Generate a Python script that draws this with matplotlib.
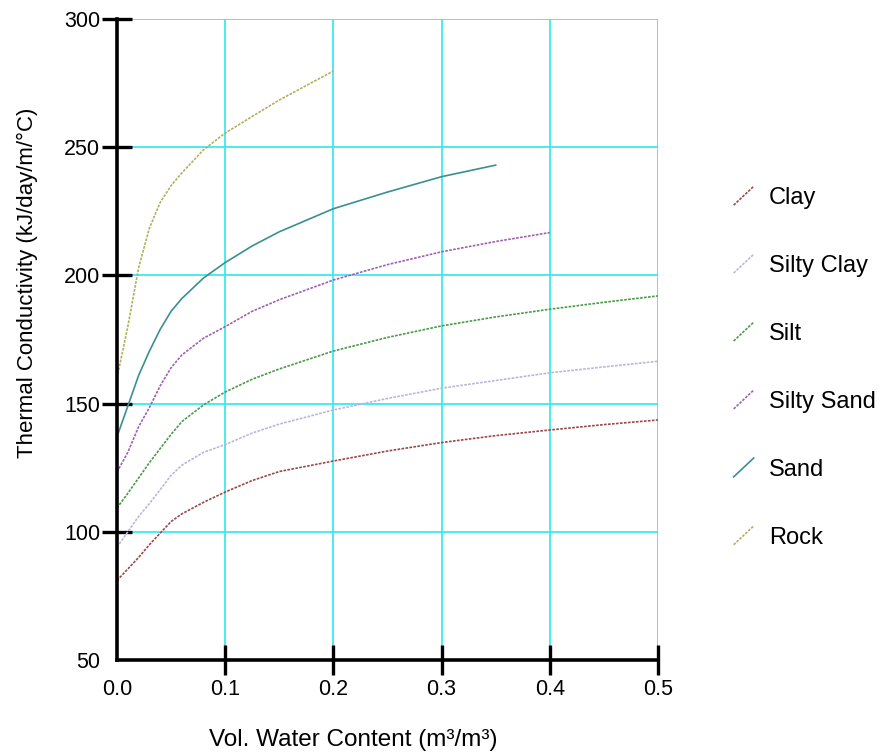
import matplotlib
matplotlib.use("Agg")
import matplotlib.pyplot as plt
from matplotlib.lines import Line2D
from matplotlib.legend_handler import HandlerLine2D

plt.rcParams['font.family'] = ['Liberation Sans', 'DejaVu Sans']

# volumetric water content samples (m3/m3)
water = [0.0, 0.01, 0.02, 0.03, 0.04, 0.05, 0.06, 0.08, 0.1, 0.125, 0.15,
         0.2, 0.25, 0.3, 0.35, 0.4, 0.45, 0.5]

# thermal conductivity (kJ/day/m/C)
clay = [81, 85.5, 90, 95, 99.5, 104, 107, 111.5, 115.5, 120, 123.5,
        127.6, 131.5, 134.8, 137.5, 139.7, 141.8, 143.6]
silty_clay = [94, 100, 106, 111, 116.5, 122, 126, 131, 134, 138.5, 142,
              147.5, 152, 156, 159, 162, 164.3, 166.5]
silt = [109.3, 115, 121, 127, 132.5, 138, 143, 149.5, 154.5, 159.5, 163.5,
        170.5, 175.8, 180.3, 183.8, 186.8, 189.5, 192]
silty_sand = [123.3, 131, 141, 148.5, 157, 164, 169, 175.5, 180, 186, 190.5,
              198.2, 204.2, 209.2, 213.2, 216.7]
sand = [137.1, 149, 161, 170.5, 179, 186, 191, 199, 205, 211.5, 217,
        226, 232.5, 238.5, 243]
rock = [160, 180, 203, 218.5, 228.5, 235, 240, 249, 255.5, 262, 268.4,
        279.7]

names = ['Clay', 'Silty Clay', 'Silt', 'Silty Sand', 'Sand', 'Rock']
series = [clay, silty_clay, silt, silty_sand, sand, rock]
colors = ['#9a4848', '#bdb4de', '#4a9a4a', '#a060b0', '#3a9090', '#b0b060']
styles = [(0, (1.6, 0.8))] * 4 + ['-'] + [(0, (1.6, 0.8))]


class HandlerDiag(HandlerLine2D):
    # short diagonal stroke as legend key
    def create_artists(self, legend, orig_handle, xdescent, ydescent,
                       width, height, fontsize, trans):
        line = Line2D([-xdescent, -xdescent + width],
                      [-ydescent, -ydescent + height])
        self.update_prop(line, orig_handle, legend)
        line.set_transform(trans)
        return [line]


fig = plt.figure(figsize=(8.85, 7.56), dpi=100)
ax = fig.add_axes([0.1322, 0.127, 0.6113, 0.8479])

handles = []
for name, vals, c, ls in zip(names, series, colors, styles):
    h, = ax.plot(water[:len(vals)], vals, color=c, ls=ls, lw=1.2, label=name)
    handles.append(h)

ax.set_xlim(0, 0.5)
ax.set_ylim(50, 300)
ax.set_xticks([0.0, 0.1, 0.2, 0.3, 0.4, 0.5])
ax.set_yticks([50, 100, 150, 200, 250, 300])
ax.set_xticklabels(['0.0', '0.1', '0.2', '0.3', '0.4', '0.5'])

ax.grid(True, color='#3ee8f0', lw=1.3)
ax.set_axisbelow(True)

for s in ['top', 'right']:
    ax.spines[s].set_visible(False)
for s in ['left', 'bottom']:
    ax.spines[s].set_linewidth(2.6)

ax.tick_params(axis='both', direction='inout', length=22, width=2.4,
               labelsize=15.5, colors='black')
ax.tick_params(axis='y', pad=1)
ax.tick_params(axis='x', pad=3)
ax.xaxis.get_major_ticks()[0].tick1line.set_visible(False)
ax.yaxis.get_major_ticks()[0].tick1line.set_visible(False)

ax.set_xlabel('Vol. Water Content (m³/m³)', fontsize=17.5)
ax.set_ylabel('Thermal Conductivity (kJ/day/m/°C)', fontsize=16)
ax.xaxis.set_label_coords(0.436, -0.108)
ax.yaxis.set_label_coords(-0.146, 0.589)

fig.legend(handles=handles, handler_map={Line2D: HandlerDiag()},
           loc='center left', bbox_to_anchor=(0.829, 0.514),
           frameon=False, fontsize=17, borderpad=0, borderaxespad=0,
           handlelength=0.85, handleheight=0.85, handletextpad=0.65,
           labelspacing=1.92)

fig.savefig('out.png', dpi=100)
